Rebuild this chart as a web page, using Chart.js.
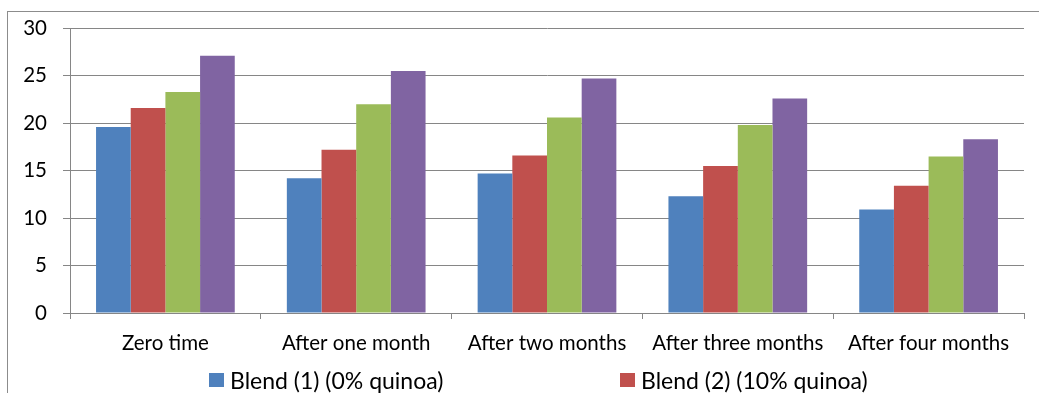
<!DOCTYPE html>
<html>
<head>
<meta charset="utf-8">
<script src="https://cdn.jsdelivr.net/npm/chart.js@4.4.1/dist/chart.umd.min.js"></script>
<style>
  html, body { margin: 0; padding: 0; background: #fff; overflow: hidden; }
  body { width: 1039px; height: 393px; position: relative; font-family: 'Lato', sans-serif; }
  #frame { position: absolute; left: 7px; top: 11px; width: 1100px; height: 500px; border: 1px solid #8c8c8c; box-sizing: border-box; }
  #wrap { position: absolute; left: 0; top: 0; width: 1039px; height: 393px; }
  #legend { position: absolute; left: 209px; top: 369px; display: grid; grid-template-columns: 411px 411px; row-gap: 6px; }
  .item { display: flex; align-items: center; font-size: 23px; color: #000; line-height: 22px; white-space: nowrap; }
  .swatch { width: 15px; height: 14px; margin-right: 6px; }
</style>
</head>
<body>
<div id="frame"></div>
<div id="wrap"><canvas id="chart" width="1039" height="393"></canvas></div>
<div id="legend"></div>
<script>
// categories and series
const categories = ['Zero time', 'After one month', 'After two months', 'After three months', 'After four months'];
const seriesNames = ['Blend (1) (0% quinoa)', 'Blend (2) (10% quinoa)', 'Blend (3) (20% quinoa)', 'Blend (4) (30% quinoa)'];
const blend1 = [19.6, 14.2, 14.7, 12.3, 10.9];
const blend2 = [21.6, 17.2, 16.6, 15.5, 13.4];
const blend3 = [23.3, 22.0, 20.6, 19.8, 16.5];
const blend4 = [27.1, 25.5, 24.7, 22.6, 18.3];
const colors = ['#4F81BD', '#C0504D', '#9BBB59', '#8064A2'];

const gridColor = '#868686';
const font = { family: 'Lato', size: 20.5 };

const ctx = document.getElementById('chart').getContext('2d');
const chart = new Chart(ctx, {
  type: 'bar',
  data: {
    labels: categories,
    datasets: [blend1, blend2, blend3, blend4].map((d, i) => ({
      label: seriesNames[i],
      data: d,
      backgroundColor: colors[i],
      borderWidth: 0,
      categoryPercentage: 0.727,
      barPercentage: 1
    }))
  },
  options: {
    responsive: false,
    animation: false,
    layout: { padding: { top: 28, right: 15, left: 0, bottom: 0 } },
    plugins: {
      legend: { display: false },
      tooltip: { enabled: false }
    },
    scales: {
      x: {
        afterFit: s => { s.height = 80; },
        grid: { offset: true, drawOnChartArea: false, color: gridColor, tickLength: 6 },
        border: { color: gridColor, width: 1 },
        ticks: { color: '#000', font: font, padding: 12, maxRotation: 0 }
      },
      y: {
        min: 0,
        max: 30,
        afterFit: s => { s.width = 70; },
        grid: { color: gridColor, tickLength: 7 },
        border: { color: gridColor, width: 1 },
        ticks: { stepSize: 5, color: '#000', font: font, padding: 16 }
      }
    }
  }
});

// legend built from the datasets (second row falls outside the picture)
const legend = document.getElementById('legend');
chart.data.datasets.forEach(ds => {
  const item = document.createElement('div');
  item.className = 'item';
  const sw = document.createElement('span');
  sw.className = 'swatch';
  sw.style.background = ds.backgroundColor;
  item.appendChild(sw);
  item.appendChild(document.createTextNode(ds.label));
  legend.appendChild(item);
});
</script>
</body>
</html>
